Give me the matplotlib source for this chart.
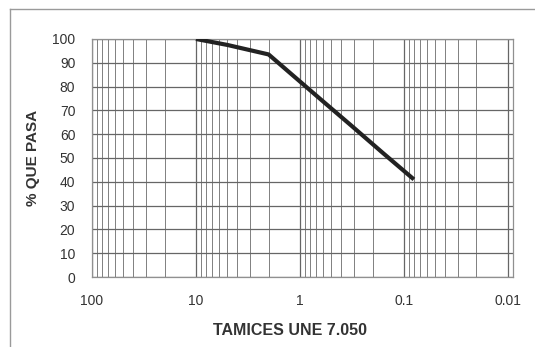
import numpy as np
import matplotlib.pyplot as plt
from matplotlib.lines import Line2D
from matplotlib.ticker import FixedLocator, NullFormatter

plt.rcParams['font.family'] = ['Liberation Sans', 'DejaVu Sans']

# sieve size (mm) and % passing
tamiz = [10, 5, 2, 1.25, 0.63, 0.32, 0.16, 0.08]
pasa = [100, 97.5, 93.5, 85.8, 74.6, 63.6, 52.2, 41]

xticks = [100, 10, 1, 0.1, 0.01]
xticklabels = ["100", "10", "1", "0.1", "0.01"]
yticks = list(range(0, 101, 10))

fig = plt.figure(figsize=(5.35, 3.47), dpi=100)
ax = fig.add_axes([0.172, 0.2017, 0.786, 0.686])

ax.set_xscale("log")
ax.set_xlim(100, 0.009)
ax.set_ylim(0, 100)

minors = [m * 10.0 ** e for e in range(-3, 2) for m in range(2, 10)]
ax.xaxis.set_major_locator(FixedLocator(xticks))
ax.xaxis.set_minor_locator(FixedLocator(minors))
ax.xaxis.set_minor_formatter(NullFormatter())
ax.set_xticks(xticks)
ax.set_xticklabels(xticklabels)
ax.set_yticks(yticks)

ax.grid(True, which="major", color="#666666", lw=0.9)
ax.grid(True, which="minor", axis="x", color="#808080", lw=0.7)
ax.tick_params(which="both", length=0)
ax.tick_params(axis="x", pad=12, labelsize=10, colors="#333333")
ax.tick_params(axis="y", pad=12, labelsize=10, colors="#333333")

for s in ax.spines.values():
    s.set_color("#909090")
    s.set_linewidth(0.9)

ax.plot(tamiz, pasa, color="#222222", lw=3, solid_capstyle="butt", zorder=5)

ax.set_ylabel("% QUE PASA", fontsize=11, fontweight="bold", color="#333333", labelpad=9)
ax.set_xlabel("TAMICES UNE 7.050", fontsize=11.5, fontweight="bold", color="#333333")
ax.xaxis.set_label_coords(0.471, -0.195)

# outer frame
fig.add_artist(Line2D([10 / 535, 1], [1 - 9 / 347, 1 - 9 / 347], transform=fig.transFigure,
                      color="#9a9a9a", lw=1))
fig.add_artist(Line2D([10 / 535, 10 / 535], [0, 1 - 9 / 347], transform=fig.transFigure,
                      color="#9a9a9a", lw=1))

plt.savefig("out.png", dpi=100)
